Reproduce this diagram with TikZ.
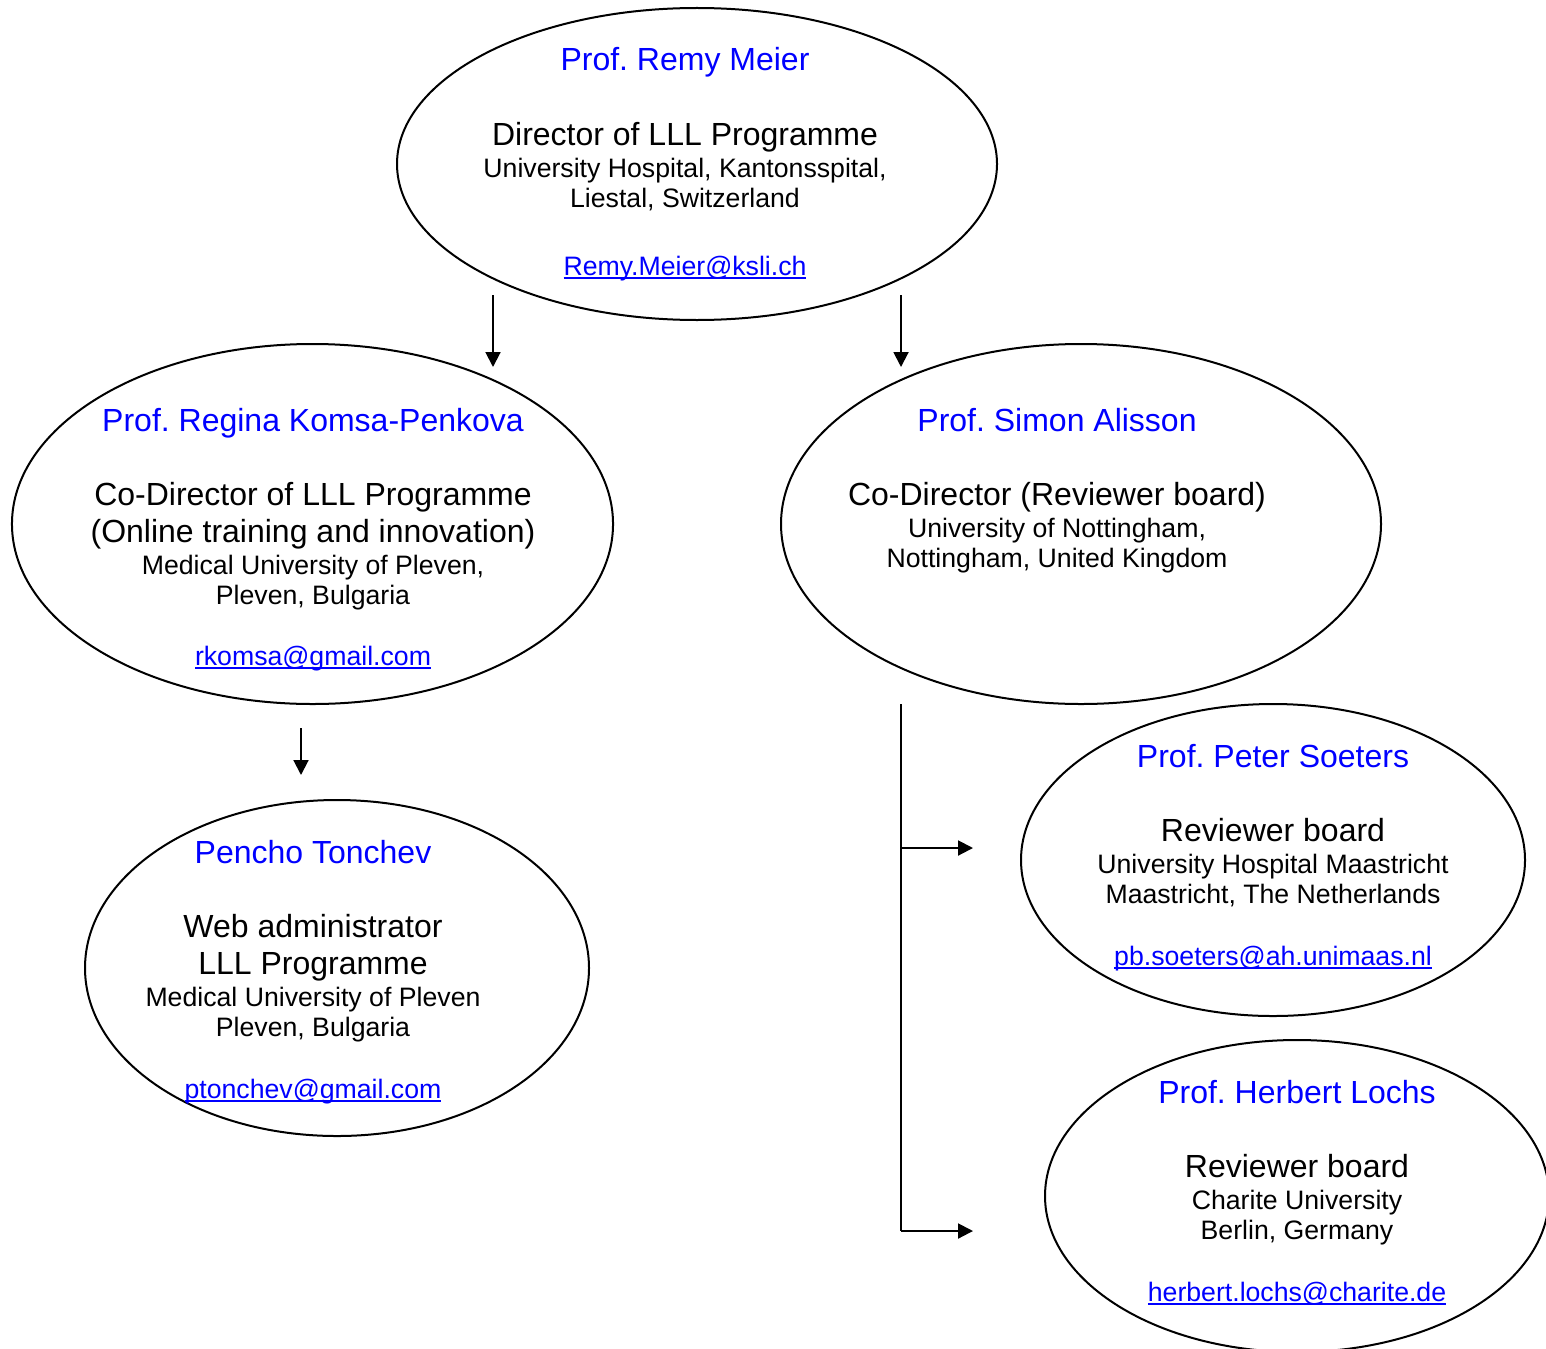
\documentclass[tikz,border=0pt]{standalone}
\usepackage{fontspec}
\setmainfont{Liberation Sans}
\usetikzlibrary{shapes.geometric,arrows.meta}
\definecolor{nameblue}{RGB}{0,0,255}
\newcommand\myul[1]{\setbox0\hbox{#1}\rlap{\rule[-1.4pt]{\wd0}{0.7pt}}\box0}
\frenchspacing
\begin{document}
\begin{tikzpicture}[x=0.375pt,y=-0.375pt,
  oval/.style={draw,ellipse,line width=0.75pt,inner sep=0pt},
  nm/.style={anchor=base,text=nameblue,font=\fontsize{12pt}{14pt}\selectfont,inner sep=0pt},
  big/.style={anchor=base,font=\fontsize{12pt}{14pt}\selectfont,inner sep=0pt},
  sm/.style={anchor=base,font=\fontsize{10pt}{12pt}\selectfont,inner sep=0pt},
  mail/.style={anchor=base,text=nameblue,font=\fontsize{10pt}{12pt}\selectfont,inner sep=0pt},
  conn/.style={line width=0.75pt},
  arr/.style={line width=0.75pt,-{Triangle[length=5.6pt,width=5.6pt]}}]
\useasboundingbox (0,0) rectangle (1546,1348);
% ellipses
\node[oval,minimum width=225pt,minimum height=117pt] (top) at (697,164) {};
\node[oval,minimum width=225.4pt,minimum height=135pt] (left) at (312.5,524) {};
\node[oval,minimum width=225pt,minimum height=135pt] (right) at (1081,524) {};
\node[oval,minimum width=189pt,minimum height=126pt] (pencho) at (337,968) {};
\node[oval,minimum width=189pt,minimum height=117pt] (peter) at (1273,860) {};
\node[oval,minimum width=189pt,minimum height=117pt] (herbert) at (1297,1196) {};
% top text
\node[nm] (t1) at (685,71) {Prof. Remy Meier};
\node[big] (t2) at (685,145) {Director of LLL Programme};
\node[sm] (t3) at (685,177) {University Hospital, Kantonsspital,};
\node[sm] (t4) at (685,207) {Liestal, Switzerland};
\node[mail] (t5) at (685,275) {\myul{Remy.Meier@ksli.ch}};
% left text
\node[nm] (l1) at (313,431) {Prof. Regina Komsa-Penkova};
\node[big] (l2) at (313,505) {Co-Director of LLL Programme};
\node[big] (l3) at (313,542) {(Online training and innovation)};
\node[sm] (l4) at (313,574) {Medical University of Pleven,};
\node[sm] (l5) at (313,604) {Pleven, Bulgaria};
\node[mail] (l6) at (313,665) {\myul{rkomsa@gmail.com}};
% right text
\node[nm] (r1) at (1057,431) {Prof. Simon Alisson};
\node[big] (r2) at (1057,505) {Co-Director (Reviewer board)};
\node[sm] (r3) at (1057,537) {University of Nottingham,};
\node[sm] (r4) at (1057,567) {Nottingham, United Kingdom};
% pencho text
\node[nm] (p1) at (313,863) {Pencho Tonchev};
\node[big] (p2) at (313,937) {Web administrator};
\node[big] (p3) at (313,974) {LLL Programme};
\node[sm] (p4) at (313,1006) {Medical University of Pleven};
\node[sm] (p5) at (313,1036) {Pleven, Bulgaria};
\node[mail] (p6) at (313,1098) {\myul{ptonchev@gmail.com}};
% peter text
\node[nm] (s1) at (1273,767) {Prof. Peter Soeters};
\node[big] (s2) at (1273,841) {Reviewer board};
\node[sm] (s3) at (1273,873) {University Hospital Maastricht};
\node[sm] (s4) at (1273,903) {Maastricht, The Netherlands};
\node[mail] (s5) at (1273,965) {\myul{pb.soeters@ah.unimaas.nl}};
% herbert text
\node[nm] (h1) at (1297,1103) {Prof. Herbert Lochs};
\node[big] (h2) at (1297,1177) {Reviewer board};
\node[sm] (h3) at (1297,1209) {Charite University};
\node[sm] (h4) at (1297,1239) {Berlin, Germany};
\node[mail] (h5) at (1297,1301) {\myul{herbert.lochs@charite.de}};
% connectors
\coordinate (a1s) at (493,295); \coordinate (a1e) at (493,367);
\coordinate (a2s) at (901,295); \coordinate (a2e) at (901,367);
\coordinate (a3s) at (301,728); \coordinate (a3e) at (301,775);
\coordinate (bs) at (901,704); \coordinate (bm) at (901,848);
\coordinate (bb) at (901,1231);
\coordinate (be1) at (973,848); \coordinate (be2) at (973,1231);
\draw[arr] (a1s) -- (a1e);
\draw[arr] (a2s) -- (a2e);
\draw[arr] (a3s) -- (a3e);
\draw[conn] (bs) -- (bb);
\draw[arr] (bm) -- (be1);
\draw[arr] (bb) -- (be2);
\end{tikzpicture}
\end{document}
